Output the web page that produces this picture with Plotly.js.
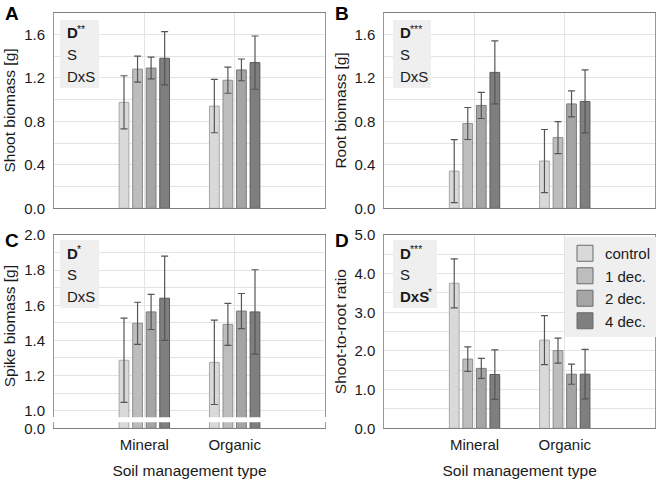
<!DOCTYPE html>
<html>
<head>
<meta charset="utf-8">
<script src="https://cdn.plot.ly/plotly-3.0.1.min.js"></script>
<style>html,body{margin:0;padding:0;background:#fff;}#chart{width:660px;height:482px;}</style>
</head>
<body>
<div id="chart"></div>
<script>
// ---------- DATA ----------
const categories = ['Mineral', 'Organic'];
const treatments = ['control', '1 dec.', '2 dec.', '4 dec.'];

// Shoot biomass [g] (panel A): means and error half-widths per treatment
const shootMean = [[0.975, 0.94], [1.28, 1.178], [1.29, 1.273], [1.38, 1.34]];
const shootErr  = [[0.244, 0.245], [0.12, 0.12], [0.10, 0.10], [0.245, 0.245]];

// Root biomass [g] (panel B)
const rootMean = [[0.342, 0.435], [0.78, 0.65], [0.946, 0.96], [1.25, 0.983]];
const rootErr  = [[0.29, 0.29], [0.147, 0.147], [0.12, 0.12], [0.29, 0.29]];

// Spike biomass [g] (panel C)
const spikeMean = [[1.287, 1.275], [1.497, 1.491], [1.562, 1.567], [1.64, 1.562]];
const spikeErr  = [[0.24, 0.24], [0.12, 0.12], [0.10, 0.10], [0.24, 0.24]];

// Shoot-to-root ratio (panel D)
const ratioMean = [[3.75, 2.28], [1.79, 2.01], [1.55, 1.40], [1.39, 1.40]];
const ratioErr  = [[0.635, 0.635], [0.315, 0.325], [0.26, 0.26], [0.64, 0.64]];

// Panel labels and statistics text: [bold part, superscript part, plain part]
const panelLetters = ['A', 'B', 'C', 'D'];
const statsA = [['D', '**', ''], ['', '', 'S'], ['', '', 'DxS']];
const statsB = [['D', '***', ''], ['', '', 'S'], ['', '', 'DxS']];
const statsC = [['D', '*', ''], ['', '', 'S'], ['', '', 'DxS']];
const statsD = [['D', '***', ''], ['', '', 'S'], ['DxS', '*', '']];

// ---------- STYLE ----------
const fillColors = ['#d9d9d9', '#bdbdbd', '#a5a5a5', '#7f7f7f'];
const edgeColors = ['#a8a8a8', '#8e8e8e', '#7a7a7a', '#5a5a5a'];
const FONT = 'Liberation Sans, Arial, sans-serif';
const W = 660, H = 482;
const px = v => v / W;
const py = v => 1 - v / H;

function barTraces(means, errs, xa, ya, showErr) {
  return treatments.map((t, i) => ({
    type: 'bar',
    name: t,
    x: categories,
    y: means[i],
    xaxis: xa, yaxis: ya,
    showlegend: false,
    legendgroup: t,
    marker: {color: fillColors[i], line: {color: edgeColors[i], width: 1}},
    error_y: {type: 'data', array: errs[i], visible: showErr, color: '#555555', thickness: 1.2, width: 3.5},
    hoverinfo: 'skip'
  }));
}
// legend entries (square swatches, no plotted points)
const legendTraces = treatments.map((t, i) => ({
  type: 'scatter', mode: 'markers', name: t, x: [null], y: [null],
  xaxis: 'x4', yaxis: 'y4', legendgroup: t, showlegend: true,
  marker: {symbol: 'square', size: 16, color: fillColors[i], line: {color: '#6a6a6a', width: 1}},
  hoverinfo: 'skip'
}));

const data = [].concat(
  barTraces(shootMean, shootErr, 'x', 'y', true),
  barTraces(rootMean, rootErr, 'x2', 'y2', true),
  barTraces(spikeMean, spikeErr, 'x3', 'y3', true),
  barTraces(spikeMean, spikeErr, 'x5', 'y5', false),
  barTraces(ratioMean, ratioErr, 'x4', 'y4', true),
  legendTraces
);

const gridC = '#e4e4e4';
const tickFont = {family: FONT, size: 15, color: '#1a1a1a'};
const titleFont = {family: FONT, size: 15.5, color: '#1a1a1a'};

function xAx(domain, anchor, labels, side, mirror) {
  return {
    domain: domain, anchor: anchor, type: 'category', range: [-1, 2],
    showgrid: true, gridcolor: gridC, gridwidth: 1,
    showline: true, linecolor: '#808080', linewidth: 1, mirror: mirror,
    side: side,
    ticks: '', ticklabelstandoff: 3, showticklabels: labels, tickfont: tickFont,
    zeroline: false, fixedrange: true
  };
}
function yAx(domain, anchor, range, dtick, minorDtick, tick0, title) {
  const a = {
    domain: domain, anchor: anchor, range: range, dtick: dtick, tick0: tick0,
    tickformat: '.1f', showgrid: true, gridcolor: gridC, gridwidth: 1,
    showline: true, linecolor: '#999999', linewidth: 1, mirror: true,
    ticks: '', ticklabelstandoff: 5, tickfont: tickFont, zeroline: false, fixedrange: true
  };
  if (minorDtick) a.minor = {dtick: minorDtick, showgrid: true, gridcolor: gridC, gridwidth: 1, ticks: ''};
  if (title) a.title = {text: title, font: titleFont, standoff: 4};
  return a;
}

const xL = [px(54), px(325)];
const xR = [px(384.3), px(655)];
const yTop = [py(208.3), py(12.6)];
const yBot = [py(428.3), py(235)];
const yCup = [py(417.3), py(235)];
const yClo = [py(428.3), py(422.3)];

const xaxis5 = xAx(xL, 'y5', true, 'bottom', false);
xaxis5.title = {text: 'Soil management type', font: titleFont, standoff: 12};
const xaxis4 = xAx(xR, 'y4', true, 'bottom', true);
xaxis4.title = {text: 'Soil management type', font: titleFont, standoff: 12};
const xaxis3 = xAx(xL, 'y3', false, 'top', false);

const yaxis5 = yAx(yClo, 'x5', [0, 0.05], 1, null, 0, null);
yaxis5.showgrid = false;

const annotations = [];
const letterPos = [[3, 1], [333, 1], [3, 228], [333, 228]];
panelLetters.forEach((L, i) => annotations.push({
  xref: 'paper', yref: 'paper', x: px(letterPos[i][0]), y: py(letterPos[i][1]),
  xanchor: 'left', yanchor: 'top', showarrow: false,
  text: L, font: {family: FONT, size: 19, color: '#000', weight: 'bold'}
}));
// width of bold text (px) at 15px, used to place the superscript after it
function boldWidth(s) {
  const w = {D: 0.722, x: 0.556, S: 0.667};
  return s.split('').reduce((a, c) => a + (w[c] || 0.6), 0) * 15;
}
function statAnn(lines, xLeft, yTopPx) {
  lines.forEach((parts, i) => {
    const yc = yTopPx + 13 + i * 21.5;
    const [boldTxt, supTxt, plainTxt] = parts;
    if (boldTxt) annotations.push({
      xref: 'paper', yref: 'paper', x: px(xLeft), y: py(yc),
      xanchor: 'left', yanchor: 'middle', showarrow: false, text: boldTxt,
      font: {family: FONT, size: 15, color: '#1a1a1a', weight: 'bold'}
    });
    if (supTxt) annotations.push({
      xref: 'paper', yref: 'paper', x: px(xLeft + boldWidth(boldTxt) - 1), y: py(yc - 4),
      xanchor: 'left', yanchor: 'middle', showarrow: false, text: supTxt,
      font: {family: FONT, size: 10.5, color: '#1a1a1a'}
    });
    if (plainTxt) annotations.push({
      xref: 'paper', yref: 'paper', x: px(xLeft), y: py(yc),
      xanchor: 'left', yanchor: 'middle', showarrow: false, text: plainTxt,
      font: {family: FONT, size: 15, color: '#1a1a1a'}
    });
  });
}
statAnn(statsA, 65, 20);
statAnn(statsB, 398, 20);
statAnn(statsC, 65, 240);
statAnn(statsD, 398, 240);

const boxes = [[60, 99, 20, 88], [393, 431, 20, 88], [60, 99, 240, 308], [393, 437, 240, 308]];
const shapes = boxes.map(b => ({
  type: 'rect', xref: 'paper', yref: 'paper', layer: 'above',
  x0: px(b[0]), x1: px(b[1]), y0: py(b[3]), y1: py(b[2]),
  fillcolor: '#efefef', line: {width: 0}
}));

const layout = {
  width: W, height: H,
  margin: {l: 0, r: 0, t: 0, b: 0},
  paper_bgcolor: '#ffffff', plot_bgcolor: '#ffffff',
  font: {family: FONT, size: 15, color: '#1a1a1a'},
  barmode: 'group', bargap: 0.4, bargroupgap: 0.28,
  showlegend: true,
  legend: {
    x: px(565), y: py(237), xanchor: 'left', yanchor: 'top',
    bgcolor: '#efefef', borderwidth: 0, itemsizing: 'trace',
    font: {family: FONT, size: 15, color: '#1a1a1a'},
    tracegroupgap: 0, itemwidth: 30, itemclick: false, itemdoubleclick: false
  },
  xaxis: xAx(xL, 'y', false, 'bottom', true),
  yaxis: yAx(yTop, 'x', [0, 1.8], 0.4, 0.2, 0, 'Shoot biomass [g]'),
  xaxis2: xAx(xR, 'y2', false, 'bottom', true),
  yaxis2: yAx(yTop, 'x2', [0, 1.8], 0.4, 0.2, 0, 'Root biomass [g]'),
  xaxis3: xaxis3,
  yaxis3: yAx(yCup, 'x3', [0.962, 2.0], 0.2, 0.1, 1.0, 'Spike biomass [g]'),
  xaxis4: xaxis4,
  yaxis4: yAx(yBot, 'x4', [0, 5.0], 1.0, 0.5, 0, 'Shoot-to-root ratio'),
  xaxis5: xaxis5,
  yaxis5: yaxis5,
  annotations: annotations,
  shapes: shapes
};

Plotly.newPlot('chart', data, layout, {staticPlot: true, displayModeBar: false});
</script>
</body>
</html>
